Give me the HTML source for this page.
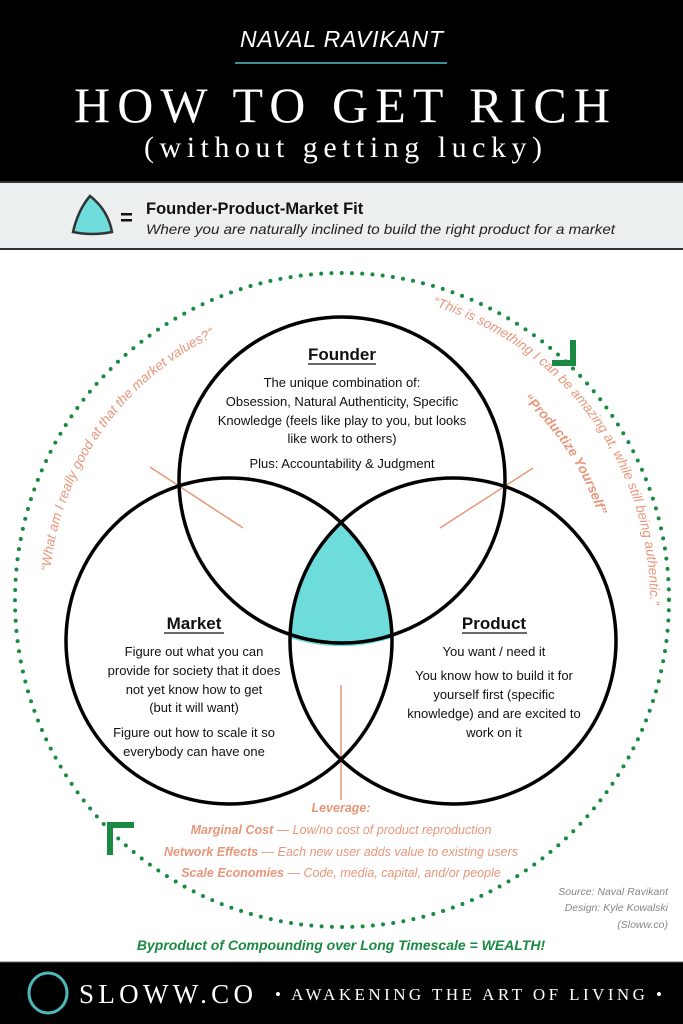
<!DOCTYPE html>
<html><head><meta charset="utf-8"><style>
html,body{margin:0;padding:0;background:#fff}
svg{display:block}
.s{font-family:"Liberation Sans",sans-serif}
.sf{font-family:"Liberation Serif",serif}
</style></head><body>
<svg width="683" height="1024" viewBox="0 0 683 1024" xmlns="http://www.w3.org/2000/svg">
<defs>
<path id="cL" d="M 49 600 A 293 293 0 1 1 635 600 A 293 293 0 1 1 49 600"/>
<path id="cR1" d="M 34 600 A 308 308 0 1 1 650 600 A 308 308 0 1 1 34 600"/>
<path id="cR2" d="M 72 600 A 270 270 0 1 1 612 600 A 270 270 0 1 1 72 600"/>
</defs>
<!-- header -->
<rect x="0" y="0" width="683" height="181" fill="#000"/>
<text x="342" y="47" text-anchor="middle" class="s" font-style="italic" font-size="23" fill="#fff" letter-spacing="1" textLength="204">NAVAL RAVIKANT</text>
<line x1="235" y1="63" x2="447" y2="63" stroke="#4fc3c8" stroke-width="1.5"/>
<text x="342" y="122" text-anchor="middle" class="sf" font-size="50" fill="#fff" textLength="536" lengthAdjust="spacing">HOW TO GET RICH</text>
<text x="343" y="157" text-anchor="middle" class="sf" font-size="30" fill="#fff" textLength="398" lengthAdjust="spacing">(without getting lucky)</text>
<!-- band -->
<rect x="0" y="181" width="683" height="69" fill="#eceff0"/>
<line x1="0" y1="182" x2="683" y2="182" stroke="#333" stroke-width="2"/>
<line x1="0" y1="249" x2="683" y2="249" stroke="#333" stroke-width="2"/>
<path d="M90 196 Q108 210 112 232 Q92 236 73 232 Q78 210 90 196 Z" fill="#6fdcdc" stroke="#333" stroke-width="2.5"/>
<rect x="121" y="213" width="11" height="2.5" fill="#111"/>
<rect x="121" y="219" width="11" height="2.5" fill="#111"/>
<text x="146" y="214" class="s" font-weight="bold" font-size="16.5" fill="#111">Founder-Product-Market Fit</text>
<text x="146" y="234" class="s" font-style="italic" font-size="14" fill="#222" textLength="469" lengthAdjust="spacingAndGlyphs">Where you are naturally inclined to build the right product for a market</text>
<!-- dotted circle -->
<circle cx="342" cy="600" r="327" fill="none" stroke="#1a8a42" stroke-width="4" stroke-linecap="round" stroke-dasharray="0 10.27"/>
<path d="M573 340 L573 363 L552 363" fill="none" stroke="#1a8a42" stroke-width="6"/>
<path d="M110 855 L110 825 L134 825" fill="none" stroke="#1a8a42" stroke-width="6"/>
<!-- lens -->
<path d="M341 523 A163 163 0 0 1 392 638 A163 163 0 0 1 290 638 A163 163 0 0 1 341 523 Z" fill="#6fdcdc"/>
<!-- orange lines -->
<g stroke="#e8967a" stroke-width="1.5">
<line x1="150" y1="467" x2="243" y2="528"/>
<line x1="533" y1="468" x2="440" y2="528"/>
<line x1="341" y1="685" x2="341" y2="800"/>
</g>
<g fill="none" stroke="#000" stroke-width="3.5">
<circle cx="342" cy="480" r="163"/>
<circle cx="229" cy="641" r="163"/>
<circle cx="453" cy="641" r="163"/>
</g>
<!-- curved texts -->
<text class="s" font-style="italic" font-size="13.5" fill="#e8967a"><textPath href="#cL" startOffset="9.7%" text-anchor="middle">“What am I really good at that the market values?”</textPath></text>
<text class="s" font-style="italic" font-size="13.5" fill="#e8967a"><textPath href="#cR1" startOffset="40%" text-anchor="middle">“This is something I can be amazing at, while still being authentic.”</textPath></text>
<text class="s" font-style="italic" font-weight="bold" font-size="13.5" fill="#e8967a"><textPath href="#cR2" startOffset="40.8%" text-anchor="middle">“Productize Yourself”</textPath></text>
<!-- founder -->
<g class="s" fill="#111" text-anchor="middle">
<text x="342" y="360" font-weight="bold" font-size="17">Founder</text>
<line x1="308" y1="364" x2="376" y2="364" stroke="#111" stroke-width="1.3"/>
<g font-size="13">
<text x="342" y="387">The unique combination of:</text>
<text x="342" y="406">Obsession, Natural Authenticity, Specific</text>
<text x="342" y="425">Knowledge (feels like play to you, but looks</text>
<text x="342" y="443">like work to others)</text>
<text x="342" y="468">Plus: Accountability &amp; Judgment</text>
</g>
<text x="194" y="629" font-weight="bold" font-size="17">Market</text>
<line x1="164" y1="633" x2="224" y2="633" stroke="#111" stroke-width="1.3"/>
<g font-size="13">
<text x="194" y="656">Figure out what you can</text>
<text x="194" y="675">provide for society that it does</text>
<text x="194" y="694">not yet know how to get</text>
<text x="194" y="712">(but it will want)</text>
<text x="194" y="737">Figure out how to scale it so</text>
<text x="194" y="756">everybody can have one</text>
</g>
<text x="494" y="629" font-weight="bold" font-size="17">Product</text>
<line x1="462" y1="633" x2="527" y2="633" stroke="#111" stroke-width="1.3"/>
<g font-size="13">
<text x="494" y="656">You want / need it</text>
<text x="494" y="680">You know how to build it for</text>
<text x="494" y="699">yourself first (specific</text>
<text x="494" y="718">knowledge) and are excited to</text>
<text x="494" y="737">work on it</text>
</g>
</g>
<!-- leverage -->
<g class="s" font-style="italic" font-size="12.5" fill="#e8967a" text-anchor="middle">
<text x="341" y="812" font-weight="bold">Leverage:</text>
<text x="341" y="834"><tspan font-weight="bold">Marginal Cost</tspan> — Low/no cost of product reproduction</text>
<text x="341" y="856"><tspan font-weight="bold">Network Effects</tspan> — Each new user adds value to existing users</text>
<text x="341" y="877"><tspan font-weight="bold">Scale Economies</tspan> — Code, media, capital, and/or people</text>
</g>
<g class="s" font-style="italic" font-size="10.5" fill="#888" text-anchor="end">
<text x="668" y="895">Source: Naval Ravikant</text>
<text x="668" y="911">Design: Kyle Kowalski</text>
<text x="668" y="928">(Sloww.co)</text>
</g>
<text x="341" y="950" text-anchor="middle" class="s" font-style="italic" font-weight="bold" font-size="14" fill="#1a8a42">Byproduct of Compounding over Long Timescale = WEALTH!</text>
<!-- footer -->
<rect x="0" y="962" width="683" height="62" fill="#000"/>
<line x1="0" y1="962" x2="683" y2="962" stroke="#666" stroke-width="1"/>
<ellipse cx="48" cy="993" rx="19" ry="20" fill="none" stroke="#4fb8bb" stroke-width="3"/>
<text x="79" y="1003" class="sf" font-size="27" fill="#fff" textLength="174" lengthAdjust="spacing">SLOWW.CO</text>
<text x="275" y="1000" class="sf" font-size="17" fill="#fff" textLength="387" lengthAdjust="spacing">• AWAKENING THE ART OF LIVING •</text>
</svg>
</body></html>
